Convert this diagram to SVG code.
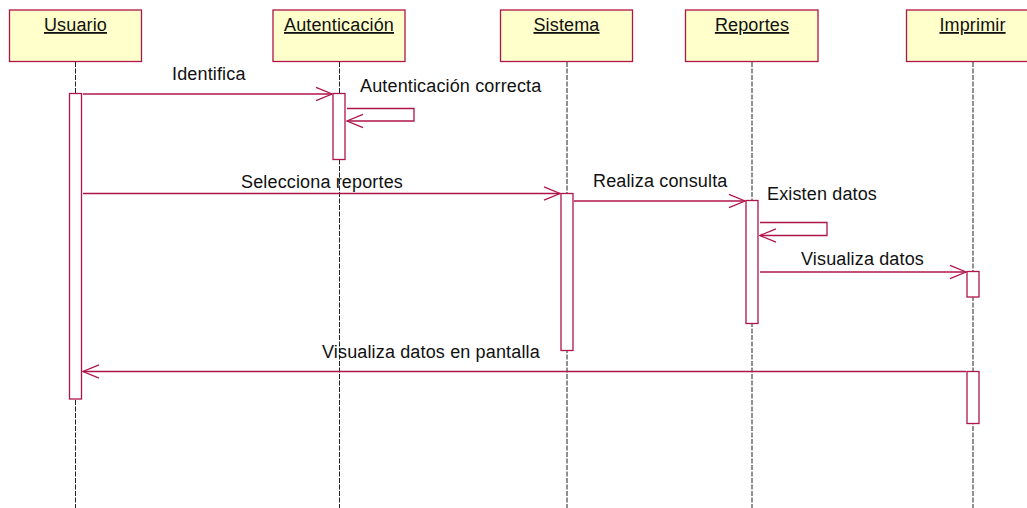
<svg xmlns="http://www.w3.org/2000/svg" width="1027" height="508" viewBox="0 0 1027 508">
<style>
.hdr{fill:#FFFFCC;stroke:#B0154A;stroke-width:1.3}
.act{fill:#FFFFFF;stroke:#B0154A;stroke-width:1.3}
.life{stroke:#222;stroke-width:1;stroke-dasharray:5,1.5;fill:none}
.msg{stroke:#B0154A;stroke-width:1.3;fill:none;marker-end:url(#open)}
.t{font-family:"Liberation Sans",Arial,sans-serif;font-size:18px;letter-spacing:0.15px;fill:#111}
.h{text-anchor:middle;text-decoration:underline}
</style>
<defs>
<marker id="open" viewBox="-18 -8 19 16" markerWidth="19" markerHeight="16" refX="0" refY="0" orient="auto" markerUnits="userSpaceOnUse" overflow="visible">
<path d="M-16,-6.7 L0,0 L-16,6.7" fill="none" stroke="#B0154A" stroke-width="1.3"/>
</marker>
</defs>
<rect width="1027" height="508" fill="#FFFFFF"/>

<g id="lifelines">
<line class="life" x1="75.5" y1="62" x2="75.5" y2="508"/>
<line class="life" x1="339.5" y1="62" x2="339.5" y2="508"/>
<line class="life" x1="567" y1="62" x2="567" y2="508"/>
<line class="life" x1="752" y1="62" x2="752" y2="508"/>
<line class="life" x1="973" y1="62" x2="973" y2="508"/>
</g>

<g id="Usuario">
<rect class="hdr" x="9.5" y="10" width="132" height="51.5"/>
<text class="t h" x="75.5" y="31">Usuario</text>
<rect class="act" x="69.5" y="93.5" width="12" height="305.5"/>
</g>
<g id="Autenticacion">
<rect class="hdr" x="273" y="10" width="132" height="51.5"/>
<text class="t h" x="339" y="31">Autenticación</text>
<rect class="act" x="333" y="93.5" width="12" height="66"/>
</g>
<g id="Sistema">
<rect class="hdr" x="500.5" y="10" width="132" height="51.5"/>
<text class="t h" x="566.5" y="31">Sistema</text>
<rect class="act" x="561" y="193.5" width="12" height="157"/>
</g>
<g id="Reportes">
<rect class="hdr" x="685.5" y="10" width="132.5" height="51.5"/>
<text class="t h" x="752" y="31">Reportes</text>
<rect class="act" x="746" y="200.5" width="12" height="123"/>
</g>
<g id="Imprimir">
<rect class="hdr" x="906.5" y="10" width="132" height="51.5"/>
<text class="t h" x="972.5" y="31">Imprimir</text>
<rect class="act" x="967" y="271.5" width="12" height="25.5"/>
<rect class="act" x="967" y="371.5" width="12" height="52"/>
</g>

<g id="connectors">
<line class="msg" x1="83" y1="94" x2="332" y2="94"/>
<polyline class="msg" points="347,108.5 414,108.5 414,121 347,121"/>
<line class="msg" x1="83" y1="193.5" x2="560" y2="193.5"/>
<line class="msg" x1="574" y1="201" x2="745" y2="201"/>
<polyline class="msg" points="760,222.5 827,222.5 827,235.5 760,235.5"/>
<line class="msg" x1="760" y1="272" x2="966" y2="272"/>
<line class="msg" x1="966" y1="371.5" x2="83" y2="371.5"/>
</g>

<g id="labels">
<text class="t" x="172" y="80">Identifica</text>
<text class="t" x="360" y="92">Autenticación correcta</text>
<text class="t" x="241" y="187.5">Selecciona reportes</text>
<text class="t" x="593" y="186.5">Realiza consulta</text>
<text class="t" x="767" y="199.5">Existen datos</text>
<text class="t" x="801" y="265">Visualiza datos</text>
<text class="t" x="322" y="358">Visualiza datos en pantalla</text>
</g>
</svg>
